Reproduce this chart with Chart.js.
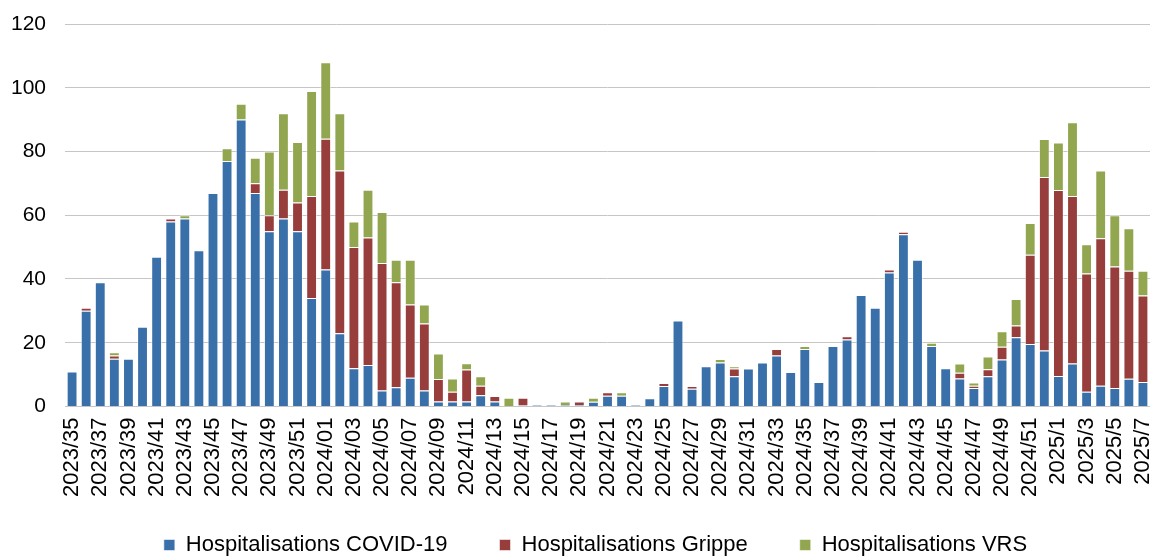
<!DOCTYPE html>
<html lang="fr">
<head>
<meta charset="utf-8">
<title>Hospitalisations COVID-19, Grippe et VRS par semaine</title>
<script src="https://cdn.jsdelivr.net/npm/chart.js@4.4.1/dist/chart.umd.min.js"></script>
<style>
  html, body { margin: 0; padding: 0; background: #ffffff; }
  #wrap { width: 1151px; height: 557px; }
  canvas { display: block; }
</style>
</head>
<body>
<div id="wrap"><canvas id="chart" width="1151" height="557"></canvas></div>
<script>
// Weekly categories (year/week)
const weeks = [
  '2023/35','2023/36','2023/37','2023/38','2023/39','2023/40','2023/41','2023/42','2023/43',
  '2023/44','2023/45','2023/46','2023/47','2023/48','2023/49','2023/50','2023/51','2023/52',
  '2024/01','2024/02','2024/03','2024/04','2024/05','2024/06','2024/07','2024/08','2024/09',
  '2024/10','2024/11','2024/12','2024/13','2024/14','2024/15','2024/16','2024/17','2024/18',
  '2024/19','2024/20','2024/21','2024/22','2024/23','2024/24','2024/25','2024/26','2024/27',
  '2024/28','2024/29','2024/30','2024/31','2024/32','2024/33','2024/34','2024/35','2024/36',
  '2024/37','2024/38','2024/39','2024/40','2024/41','2024/42','2024/43','2024/44','2024/45',
  '2024/46','2024/47','2024/48','2024/49','2024/50','2024/51','2024/52',
  '2025/1','2025/2','2025/3','2025/4','2025/5','2025/6','2025/7'
];

// Hospitalisations COVID-19
const covid = [
  11, 30, 39, 15, 15, 25, 47, 58, 59,
  49, 67, 77, 90, 67, 55, 59, 55, 34,
  43, 23, 12, 13, 5, 6, 9, 5, 1.6,
  1.6, 1.6, 3.5, 1.6, 0, 0.3, 0.4, 0.4, 0.4,
  0.4, 1.5, 3.4, 3.4, 0.4, 2.6, 6.4, 27, 5.6,
  12.6, 13.8, 9.5, 11.9, 13.8, 16, 10.8, 18, 7.7,
  19, 21, 35, 31, 42, 54, 46, 19, 12,
  8.8, 5.8, 9.5, 14.7, 21.7, 19.6, 17.6,
  9.6, 13.5, 4.6, 6.5, 5.8, 8.7, 7.7
];

// Hospitalisations Grippe
const grippe = [
  0, 1, 0, 1, 0, 0, 0, 1, 0,
  0, 0, 0, 0, 3, 5, 9, 9, 32,
  41, 51, 38, 40, 40, 33, 23, 21, 7,
  3, 10, 3, 1.7, 0, 2.4, 0, 0, 0,
  1.2, 0, 1.1, 0, 0, 0, 1, 0, 0.8,
  0, 0, 2.4, 0, 0, 2, 0, 0, 0,
  0, 1, 0, 0, 1, 0.8, 0, 0, 0,
  1.8, 0.7, 2.2, 4, 3.7, 28, 54.4,
  58.3, 52.5, 37.1, 46.3, 38.1, 33.9, 27.1
];

// Hospitalisations VRS
const vrs = [
  0, 0, 0, 1, 0, 0, 0, 0, 1,
  0, 0, 4, 5, 8, 20, 24, 19, 33,
  24, 18, 8, 15, 16, 7, 14, 6, 8,
  4.2, 2, 3, 0, 2.7, 0, 0, 0, 1.2,
  0, 1.2, 0, 1.1, 0, 0, 0, 0, 0,
  0, 1.1, 0.7, 0, 0, 0, 0, 1, 0,
  0, 0, 0, 0, 0, 0, 0, 1, 0,
  2.9, 1, 4, 4.9, 8.3, 10, 11.9,
  14.9, 23.2, 9.2, 21.2, 16.1, 13.3, 7.8
];

const seriesNames = ['Hospitalisations COVID-19', 'Hospitalisations Grippe', 'Hospitalisations VRS'];
const seriesColors = ['#3A70A9', '#973D3B', '#91A64F'];

const FONT = "'Liberation Sans', Arial, Helvetica, sans-serif";
Chart.defaults.font.family = FONT;
Chart.defaults.color = '#000000';

// Moves the bottom legend's drawing origin; its clip box keeps its lower edge
const legendOffset = {
  id: 'legendOffset',
  afterLayout(chart, args, opts) {
    const lg = chart.legend;
    if (!lg) return;
    lg.left += opts.dx;
    lg.right += opts.dx;
    lg.top += opts.dy;
  }
};

const ctx = document.getElementById('chart').getContext('2d');
new Chart(ctx, {
  type: 'bar',
  data: {
    labels: weeks,
    datasets: [covid, grippe, vrs].map((values, i) => ({
      label: seriesNames[i],
      data: values,
      backgroundColor: seriesColors[i],
      borderColor: 'rgba(255,255,255,0.55)',
      borderWidth: 1,
      categoryPercentage: 1,
      barPercentage: 0.77
    }))
  },
  options: {
    responsive: false,
    animation: false,
    layout: { padding: { top: 24, right: 1, left: 11, bottom: 0 } },
    scales: {
      x: {
        stacked: true,
        grid: { display: false, drawTicks: false },
        border: { display: false },
        ticks: {
          autoSkip: false,
          maxRotation: 90,
          minRotation: 90,
          padding: 11,
          color: '#000000',
          font: { size: 22, family: FONT },
          callback: (value, index) => (index % 2 === 0 ? weeks[index] : '')
        },
        afterFit: (scale) => {
          scale.paddingLeft = 0;
          scale.paddingRight = 0;
          scale.height -= scale.options.ticks.padding;
        }
      },
      y: {
        stacked: true,
        min: 0,
        max: 120,
        grid: { color: '#C6C6C6', lineWidth: 1, drawTicks: false },
        border: { display: false },
        ticks: {
          stepSize: 20,
          padding: 19,
          color: '#000000',
          font: { size: 21, family: FONT }
        },
        afterFit: (scale) => {
          scale.paddingTop = 0;
          scale.paddingBottom = 0;
          scale.width -= scale.options.ticks.padding;
        }
      }
    },
    plugins: {
      legend: {
        position: 'bottom',
        maxHeight: 60,
        labels: {
          boxWidth: 11,
          boxHeight: 11,
          padding: 52,
          color: '#000000',
          font: { size: 22, family: FONT }
        }
      },
      legendOffset: { dx: 15, dy: -15 },
      tooltip: { enabled: false }
    }
  },
  plugins: [legendOffset]
});
</script>
</body>
</html>
